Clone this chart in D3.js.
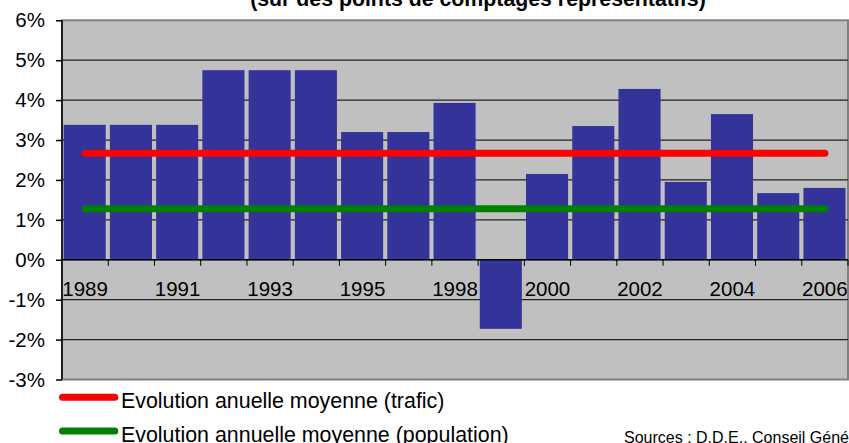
<!DOCTYPE html>
<html lang="fr">
<head>
  <meta charset="UTF-8">
  <title>Evolution annuelle du trafic</title>
  <script src="https://d3js.org/d3.v7.min.js"></script>
  <style>
    body {
      margin: 0;
      background: #fff;
      font-family: "Liberation Sans", Arial, sans-serif;
    }
    svg { display: block; }
    .tick text { font-size: 20px; fill: #000; }
  </style>
</head>
<body>
  <div id="chart"></div>

  <script>
    // Années (catégories)
    const annees = ["1989", "1990", "1991", "1992", "1993", "1994", "1995", "1996", "1998",
                    "1999", "2000", "2001", "2002", "2003", "2004", "2005", "2006"];

    // Evolution annuelle du trafic (%)
    const evolution = [3.38, 3.38, 3.38, 4.75, 4.75, 4.75, 3.2, 3.2, 3.93,
                       -1.73, 2.15, 3.35, 4.28, 1.95, 3.65, 1.67, 1.8];

    // Moyennes (%)
    const moyenneTrafic = [2.67, 2.67, 2.67, 2.67, 2.67, 2.67, 2.67, 2.67, 2.67,
                           2.67, 2.67, 2.67, 2.67, 2.67, 2.67, 2.67, 2.67];
    const moyennePopulation = [1.28, 1.28, 1.28, 1.28, 1.28, 1.28, 1.28, 1.28, 1.28,
                               1.28, 1.28, 1.28, 1.28, 1.28, 1.28, 1.28, 1.28];

    // Graduations de l'axe Y
    const yTicks = [-3, -2, -1, 0, 1, 2, 3, 4, 5, 6];

    const titre = "(sur des points de comptages représentatifs)";
    const legendes = ["Evolution anuelle moyenne (trafic)", "Evolution annuelle moyenne (population)"];
    const sources = "Sources : D.D.E.. Conseil Général";

    const width = 849, height = 443;
    const plot = { left: 62, right: 848, top: 20.3, bottom: 379.5 };

    const svg = d3.select("#chart").append("svg")
      .attr("width", width)
      .attr("height", height);

    const x = d3.scaleBand()
      .domain(annees)
      .range([plot.left, plot.right])
      .padding(0);

    const y = d3.scaleLinear()
      .domain([-3, 6])
      .range([plot.bottom, plot.top]);

    const bw = x.bandwidth();

    // Titre (coupé en haut)
    svg.append("text")
      .attr("x", 478)
      .attr("y", 6)
      .attr("text-anchor", "middle")
      .style("font-size", "21.3px")
      .style("font-weight", "bold")
      .text(titre);

    // Fond de la zone de tracé
    svg.append("rect")
      .attr("x", plot.left)
      .attr("y", plot.top)
      .attr("width", plot.right - plot.left)
      .attr("height", plot.bottom - plot.top)
      .attr("fill", "#c0c0c0")
      .attr("stroke", "#808080")
      .attr("stroke-width", 2);

    // Quadrillage
    svg.append("g")
      .selectAll("line")
      .data(yTicks.filter(d => d !== 6 && d !== -3))
      .enter().append("line")
      .attr("x1", plot.left)
      .attr("x2", plot.right)
      .attr("y1", d => y(d))
      .attr("y2", d => y(d))
      .attr("stroke", "#222")
      .attr("stroke-width", 1.2);

    // Barres
    svg.append("g")
      .selectAll("rect")
      .data(annees)
      .enter().append("rect")
      .attr("x", (d) => x(d) + bw * 0.036)
      .attr("width", bw * 0.91)
      .attr("y", (d, i) => y(Math.max(0, evolution[i])))
      .attr("height", (d, i) => Math.abs(y(evolution[i]) - y(0)))
      .attr("fill", "#333399");

    // Axe Y
    svg.append("g")
      .attr("transform", "translate(" + plot.left + ",0)")
      .call(d3.axisLeft(y).tickValues(yTicks).tickSize(6).tickPadding(11)
        .tickFormat(d => d + "%"))
      .call(g => g.selectAll("line, path").attr("stroke", "#000").attr("stroke-width", 1.5))
      .call(g => g.select(".domain").attr("d", "M0," + plot.top + "V" + plot.bottom))
      .selectAll("text")
      .style("font-family", "'Liberation Sans', Arial, sans-serif")
      .style("font-size", "20.5px");

    // Axe X (ligne du zéro)
    const xAxis = svg.append("g");
    xAxis.append("line")
      .attr("x1", plot.left)
      .attr("x2", plot.right)
      .attr("y1", y(0))
      .attr("y2", y(0))
      .attr("stroke", "#000")
      .attr("stroke-width", 1.5);

    xAxis.selectAll(".xtick")
      .data(annees)
      .enter().append("line")
      .attr("class", "xtick")
      .attr("x1", d => x(d) + bw)
      .attr("x2", d => x(d) + bw)
      .attr("y1", y(0))
      .attr("y2", y(0) + 6)
      .attr("stroke", "#000")
      .attr("stroke-width", 1);

    xAxis.selectAll(".xlabel")
      .data(annees.filter((d, i) => i % 2 === 0))
      .enter().append("text")
      .attr("class", "xlabel")
      .attr("x", d => x(d) + bw / 2)
      .attr("y", 296)
      .attr("text-anchor", "middle")
      .style("font-size", "20.5px")
      .text(d => d);

    // Lignes de moyenne
    const line = d3.line()
      .x((d, i) => x(annees[i]) + bw / 2)
      .y(d => y(d));

    svg.append("path")
      .datum(moyenneTrafic)
      .attr("d", line)
      .attr("fill", "none")
      .attr("stroke", "#ff0000")
      .attr("stroke-width", 7)
      .attr("stroke-linecap", "round");

    svg.append("path")
      .datum(moyennePopulation)
      .attr("d", line)
      .attr("fill", "none")
      .attr("stroke", "#008000")
      .attr("stroke-width", 7)
      .attr("stroke-linecap", "round");

    // Légende
    const couleurs = ["#ff0000", "#008000"];
    const legend = svg.append("g");
    legendes.forEach((txt, i) => {
      const ly = 397.3 + i * 33.7;
      legend.append("line")
        .attr("x1", 62.5)
        .attr("x2", 114.8)
        .attr("y1", ly)
        .attr("y2", ly)
        .attr("stroke", couleurs[i])
        .attr("stroke-width", 7)
        .attr("stroke-linecap", "round");
      legend.append("text")
        .attr("x", 121)
        .attr("y", ly + 11)
        .style("font-size", "21.4px")
        .text(txt);
    });

    // Sources
    svg.append("text")
      .attr("x", 624)
      .attr("y", 442.5)
      .style("font-size", "16px")
      .text(sources);
  </script>
</body>
</html>
